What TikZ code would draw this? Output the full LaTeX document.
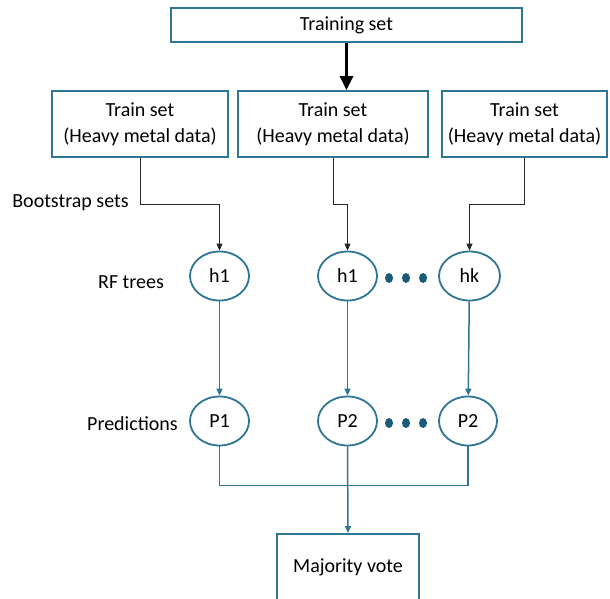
\documentclass[tikz,border=0pt]{standalone}
\usepackage{fontspec}
\setmainfont{Carlito}
\usetikzlibrary{shapes.geometric,arrows.meta}
\definecolor{rfblue}{RGB}{46,117,150}
\definecolor{rfdot}{RGB}{26,92,120}
\tikzset{
    box/.style={draw=rfblue, line width=1.8pt, fill=white, align=center, inner sep=0pt,
        font=\fontsize{20}{26}\selectfont},
    tree/.style={ellipse, draw=rfblue, line width=1.8pt, minimum width=59pt, minimum height=49pt,
        inner sep=0pt, font=\fontsize{20}{23}\selectfont},
    dotnode/.style={ellipse, fill=rfdot, minimum width=8pt, minimum height=10pt, inner sep=0pt},
    lbl/.style={font=\fontsize{20}{23}\selectfont},
    boot/.style={draw=black!85, line width=0.9pt, -{Triangle[length=7pt,width=6pt]}},
    flow/.style={draw=rfblue, line width=1.5pt, -{Triangle[length=7pt,width=6pt]}},
}
\begin{document}
\begin{tikzpicture}[x=1pt, y=-1pt]
        \useasboundingbox (0,0) rectangle (610,598);
        % boxes
        \node[box, minimum width=351pt, minimum height=34pt] (train) at (346.5,25) {Training set};
        \node[box, minimum width=176pt, minimum height=66pt] (set1) at (140,124) {Train set\\(Heavy metal data)};
        \node[box, minimum width=190pt, minimum height=66pt] (set2) at (333,124) {Train set\\(Heavy metal data)};
        \node[box, minimum width=165pt, minimum height=66pt] (set3) at (524.5,124) {Train set\\(Heavy metal data)};
        \node[box, minimum width=142pt, minimum height=66pt] (vote) at (348,567) {Majority vote};
        % trees
        \node[tree] (t1) at (219.5,276) {h1};
        \node[tree] (t2) at (347.5,276) {h1};
        \node[tree, minimum width=61pt] (tk) at (469.5,276) {hk};
        % predictions
        \node[tree] (p1) at (219.5,421) {P1};
        \node[tree] (p2) at (347.5,421) {P2};
        \node[tree, minimum width=58pt] (pk) at (468,421) {P2};
        % dots
        \foreach \x [count=\i] in {389,406,423} {
            \node[dotnode] (td\i) at (\x,278) {};
            \node[dotnode] (pd\i) at (\x,423) {};
        }
        % labels
        \node[lbl] (lboot) at (70.5,203) {Bootstrap sets};
        \node[lbl] (ltree) at (131,282) {RF trees};
        \node[lbl] (lpred) at (132.5,424) {Predictions};
        % arrows
        \draw[line width=3pt, -{Triangle[length=14pt,width=13pt]}] (train.south) -- (train.south |- set2.north);
        \draw[boot] (set1.south) -- ++(0,47) -| (t1.north);
        \draw[boot] (set2.south) -- ++(0,47) -| (t2.north);
        \draw[boot] (set3.south) -- ++(0,47) -| (tk.north);
        \draw[flow] (t1) -- (p1);
        \draw[flow] (t2) -- (p2);
        \draw[flow] (tk) -- (pk);
        \draw[draw=rfblue, line width=1.5pt] (p1.south) -- ++(0,39) -| (pk.south);
        \draw[flow] (p2.south) -- (vote.north);
    \end{tikzpicture}
\end{document}
